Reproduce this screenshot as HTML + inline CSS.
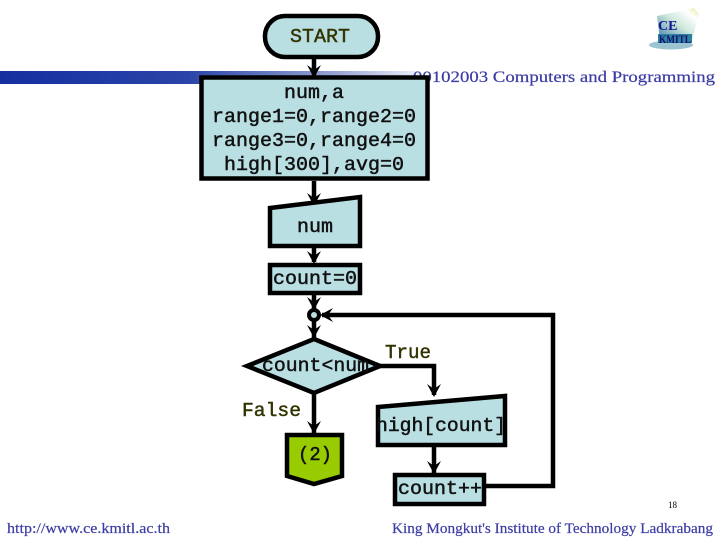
<!DOCTYPE html>
<html>
<head>
<meta charset="utf-8">
<style>
html,body{margin:0;padding:0;background:#fff;width:720px;height:540px;overflow:hidden}
svg{display:block}
.m{font-family:"Liberation Mono",monospace;font-size:19px;fill:#111;stroke:#111;stroke-width:.45;text-anchor:start}
.o{fill:#333300;stroke:#333300}
.s{font-family:"Liberation Serif",serif;fill:#3c3ca4;stroke:#3c3ca4;stroke-width:.2}
.n{fill:#b9dfe3;stroke:#000;stroke-width:4.5;stroke-linejoin:miter}
.l{fill:none;stroke:#000;stroke-width:4.5}
</style>
</head>
<body>
<svg width="720" height="540" viewBox="0 0 720 540" xmlns="http://www.w3.org/2000/svg">
<defs>
<linearGradient id="bar" x1="0" x2="1" y1="0" y2="0">
<stop offset="0" stop-color="#1430a0"/>
<stop offset="0.45" stop-color="#2a44a8"/>
<stop offset="0.8" stop-color="#98a4d4"/>
<stop offset="1" stop-color="#eef0fa"/>
</linearGradient>
<linearGradient id="hat" x1="0" x2="1" y1="1" y2="0">
<stop offset="0" stop-color="#3a7fa8"/>
<stop offset="0.5" stop-color="#cfe8dc"/>
<stop offset="0.8" stop-color="#ffffff"/>
<stop offset="1" stop-color="#e8e49a"/>
</linearGradient>
</defs>

<!-- header -->
<rect x="0" y="71" width="420" height="13" fill="url(#bar)"/>
<text class="s" x="413" y="82" font-size="15.5" textLength="302" lengthAdjust="spacingAndGlyphs">00102003 Computers and Programming</text>

<!-- logo -->
<path d="M657 16 L694 8 L699 14 L692 40 L660 40 Z" fill="url(#hat)"/>
<ellipse cx="671" cy="45" rx="22" ry="4.5" fill="#9cc4d0"/>
<rect x="658" y="34" width="34" height="9" fill="#2f7fa0"/>
<text x="658" y="30" font-family="Liberation Serif,serif" font-weight="bold" font-size="14" fill="#14148c">CE</text>
<text x="659" y="43" font-family="Liberation Serif,serif" font-weight="bold" font-size="12" fill="#101070" textLength="32" lengthAdjust="spacingAndGlyphs">KMITL</text>

<!-- footer -->
<text class="s" x="7" y="533" font-size="15" textLength="163" lengthAdjust="spacingAndGlyphs">http://www.ce.kmitl.ac.th</text>
<text class="s" x="392" y="533" font-size="14.5" textLength="321" lengthAdjust="spacingAndGlyphs">King Mongkut's Institute of Technology Ladkrabang</text>
<text x="668" y="508" font-family="Liberation Serif,serif" font-size="9" fill="#000">18</text>

<!-- connectors -->
<path class="l" d="M314 58V76M314 181V207M314 248V262M314 295V338M314 393V433"/>
<path class="l" d="M380 366H434V395"/>
<path class="l" d="M434 447V473"/>
<path class="l" d="M486 486H553V315H322"/>
<!-- arrowheads -->
<g fill="#000">
<path d="M307 65L314 70L321 65L314 78Z"/>
<path d="M307 193L314 198L321 193L314 206Z"/>
<path d="M307 251L314 256L321 251L314 264Z"/>
<path d="M307 297L314 302L321 297L314 310Z"/>
<path d="M307 325L314 330L321 325L314 338Z"/>
<path d="M307 421L314 426L321 421L314 434Z"/>
<path d="M427 384L434 389L441 384L434 397Z"/>
<path d="M427 461L434 466L441 461L434 474Z"/>
<path d="M333 308L328 315L333 322L320 315Z"/>
</g>

<!-- nodes -->
<rect class="n" x="265" y="16" width="113" height="41" rx="20" ry="20"/>
<text class="m o" x="290" y="42" textLength="60" lengthAdjust="spacingAndGlyphs">START</text>

<rect class="n" x="201.500" y="77.500" width="226" height="101"/>
<text class="m" x="284" y="98" textLength="60" lengthAdjust="spacingAndGlyphs">num,a</text>
<text class="m" x="212" y="122" textLength="204" lengthAdjust="spacingAndGlyphs">range1=0,range2=0</text>
<text class="m" x="212" y="146" textLength="204" lengthAdjust="spacingAndGlyphs">range3=0,range4=0</text>
<text class="m" x="224" y="170" textLength="180" lengthAdjust="spacingAndGlyphs">high[300],avg=0</text>

<path class="n" d="M270 208L360 197V246H270Z"/>
<text class="m" x="297" y="232" textLength="36" lengthAdjust="spacingAndGlyphs">num</text>

<rect class="n" x="270" y="265" width="90" height="28"/>
<text class="m" x="273" y="284" textLength="84" lengthAdjust="spacingAndGlyphs">count=0</text>

<circle cx="314" cy="315" r="5" fill="#b9dfe3" stroke="#000" stroke-width="4"/>

<path class="n" d="M314 339L380 366L314 393L247 366Z"/>
<text class="m" x="262" y="371" textLength="107" lengthAdjust="spacingAndGlyphs">count&lt;num</text>

<text class="m o" x="385" y="358" textLength="46" lengthAdjust="spacingAndGlyphs">True</text>
<text class="m o" x="242" y="416" textLength="59" lengthAdjust="spacingAndGlyphs">False</text>

<path class="n" d="M378 407L505 396V445H378Z"/>
<text class="m" x="376" y="431" textLength="130" lengthAdjust="spacingAndGlyphs">high[count]</text>

<rect class="n" x="395" y="475" width="89" height="29"/>
<text class="m" x="398" y="494" textLength="84" lengthAdjust="spacingAndGlyphs">count++</text>

<path d="M287 435H342V476L314 484L287 476Z" fill="#99cc00" stroke="#000" stroke-width="4.500"/>
<text class="m" x="298" y="460" textLength="34" lengthAdjust="spacingAndGlyphs">(2)</text>
</svg>
</body>
</html>
